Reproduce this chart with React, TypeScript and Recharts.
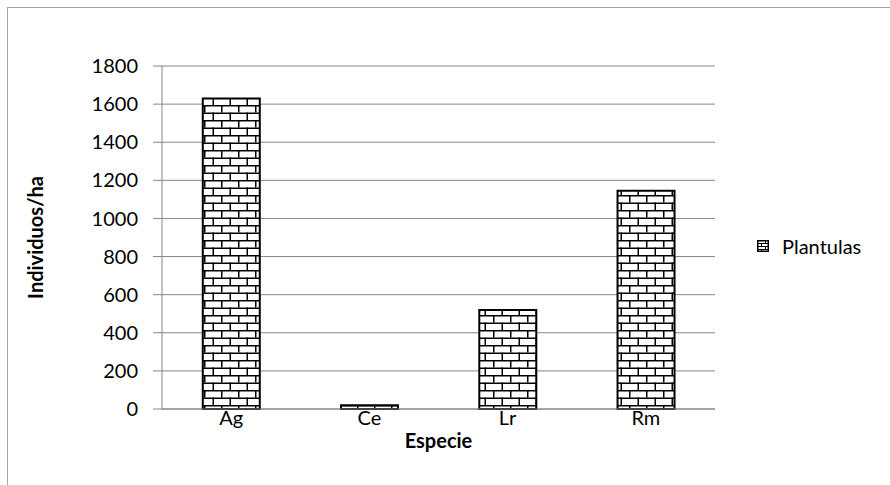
import { BarChart, Bar, XAxis, YAxis, CartesianGrid, Label } from "recharts";

// Plantulas per species (individuos/ha)
const especies = ["Ag", "Ce", "Lr", "Rm"];
const plantulas = [1630, 20, 520, 1145];
const yTicks = [0, 200, 400, 600, 800, 1000, 1200, 1400, 1600, 1800];
const serie = "Plantulas";

const FONT = "Lato, 'Liberation Sans', sans-serif";
const GRID = "#868686";
const FS = 20;

const data = especies.map((e, i) => ({ especie: e, plantulas: plantulas[i] }));

// Excel-style "horizontal brick" fill
const BrickDefs = () => (
    <svg width={0} height={0} style={{ position: "absolute" }}>
        <defs>
            <pattern id="brick" patternUnits="userSpaceOnUse" width={17} height={15}>
                <rect width={17} height={15} fill="#fff" />
                <line x1={0} y1={0.75} x2={17} y2={0.75} stroke="#000" strokeWidth={1.5} />
                <line x1={0} y1={8.25} x2={17} y2={8.25} stroke="#000" strokeWidth={1.5} />
                <line x1={0.75} y1={0} x2={0.75} y2={7.5} stroke="#000" strokeWidth={1.5} />
                <line x1={9.25} y1={7.5} x2={9.25} y2={15} stroke="#000" strokeWidth={1.5} />
            </pattern>
            <pattern id="brickSmall" patternUnits="userSpaceOnUse" width={8} height={6}>
                <rect width={8} height={6} fill="#fff" />
                <line x1={0} y1={0.5} x2={8} y2={0.5} stroke="#000" strokeWidth={1} />
                <line x1={0} y1={3.5} x2={8} y2={3.5} stroke="#000" strokeWidth={1} />
                <line x1={0.5} y1={0} x2={0.5} y2={3} stroke="#000" strokeWidth={1} />
                <line x1={4.5} y1={3} x2={4.5} y2={6} stroke="#000" strokeWidth={1} />
            </pattern>
        </defs>
    </svg>
);

const ChartLegend = () => (
    <div
        style={{
            position: "absolute",
            left: 757,
            top: 233,
            display: "flex",
            alignItems: "center",
            fontFamily: FONT,
            fontSize: FS,
            color: "#000",
            lineHeight: "26px",
        }}
    >
        <svg width={12} height={12} style={{ marginRight: 13 }}>
            <rect x={0.75} y={0.75} width={10.5} height={10.5} fill="url(#brickSmall)" stroke="#000" strokeWidth={1.5} />
        </svg>
        {serie}
    </div>
);

export default function App() {
    return (
        <div style={{ position: "absolute", left: 0, top: 0, width: 890, height: 485, background: "#fff", overflow: "hidden" }}>
            <BrickDefs />
            <div
                style={{
                    position: "absolute",
                    left: 7,
                    top: 7,
                    width: 900,
                    height: 500,
                    border: "1px solid #a6a6a6",
                }}
            />
            <div style={{ position: "absolute", left: 0, top: 0 }}>
                <BarChart
                    width={890}
                    height={485}
                    data={data}
                    margin={{ top: 66, right: 175, bottom: 0, left: 0 }}
                    barCategoryGap="29.5%"
                >
                    <CartesianGrid vertical={false} stroke={GRID} strokeWidth={1} />
                    <XAxis
                        dataKey="especie"
                        height={76}
                        tickLine={false}
                        tickSize={0}
                        tickMargin={2}
                        axisLine={{ stroke: GRID, strokeWidth: 1 }}
                        tick={{ fill: "#000", fontFamily: FONT, fontSize: FS }}
                    >
                        <Label
                            value="Especie"
                            position="insideBottom"
                            offset={37}
                            style={{ fill: "#000", fontFamily: FONT, fontSize: FS, fontWeight: 700 }}
                        />
                    </XAxis>
                    <YAxis
                        width={162}
                        domain={[0, 1800]}
                        ticks={yTicks}
                        interval={0}
                        tickSize={9}
                        tickMargin={15}
                        axisLine={{ stroke: GRID, strokeWidth: 1 }}
                        tickLine={{ stroke: GRID, strokeWidth: 1 }}
                        tick={{ fill: "#000", fontFamily: FONT, fontSize: FS }}
                    >
                        <Label
                            value="Individuos/ha"
                            angle={-90}
                            position="center"
                            dx={-45}
                            style={{ fill: "#000", fontFamily: FONT, fontSize: FS, fontWeight: 700, textAnchor: "middle" }}
                        />
                    </YAxis>
                    <Bar
                        dataKey="plantulas"
                        name={serie}
                        fill="url(#brick)"
                        stroke="#000"
                        strokeWidth={2}
                        isAnimationActive={false}
                    />
                </BarChart>
            </div>
            <ChartLegend />
        </div>
    );
}
